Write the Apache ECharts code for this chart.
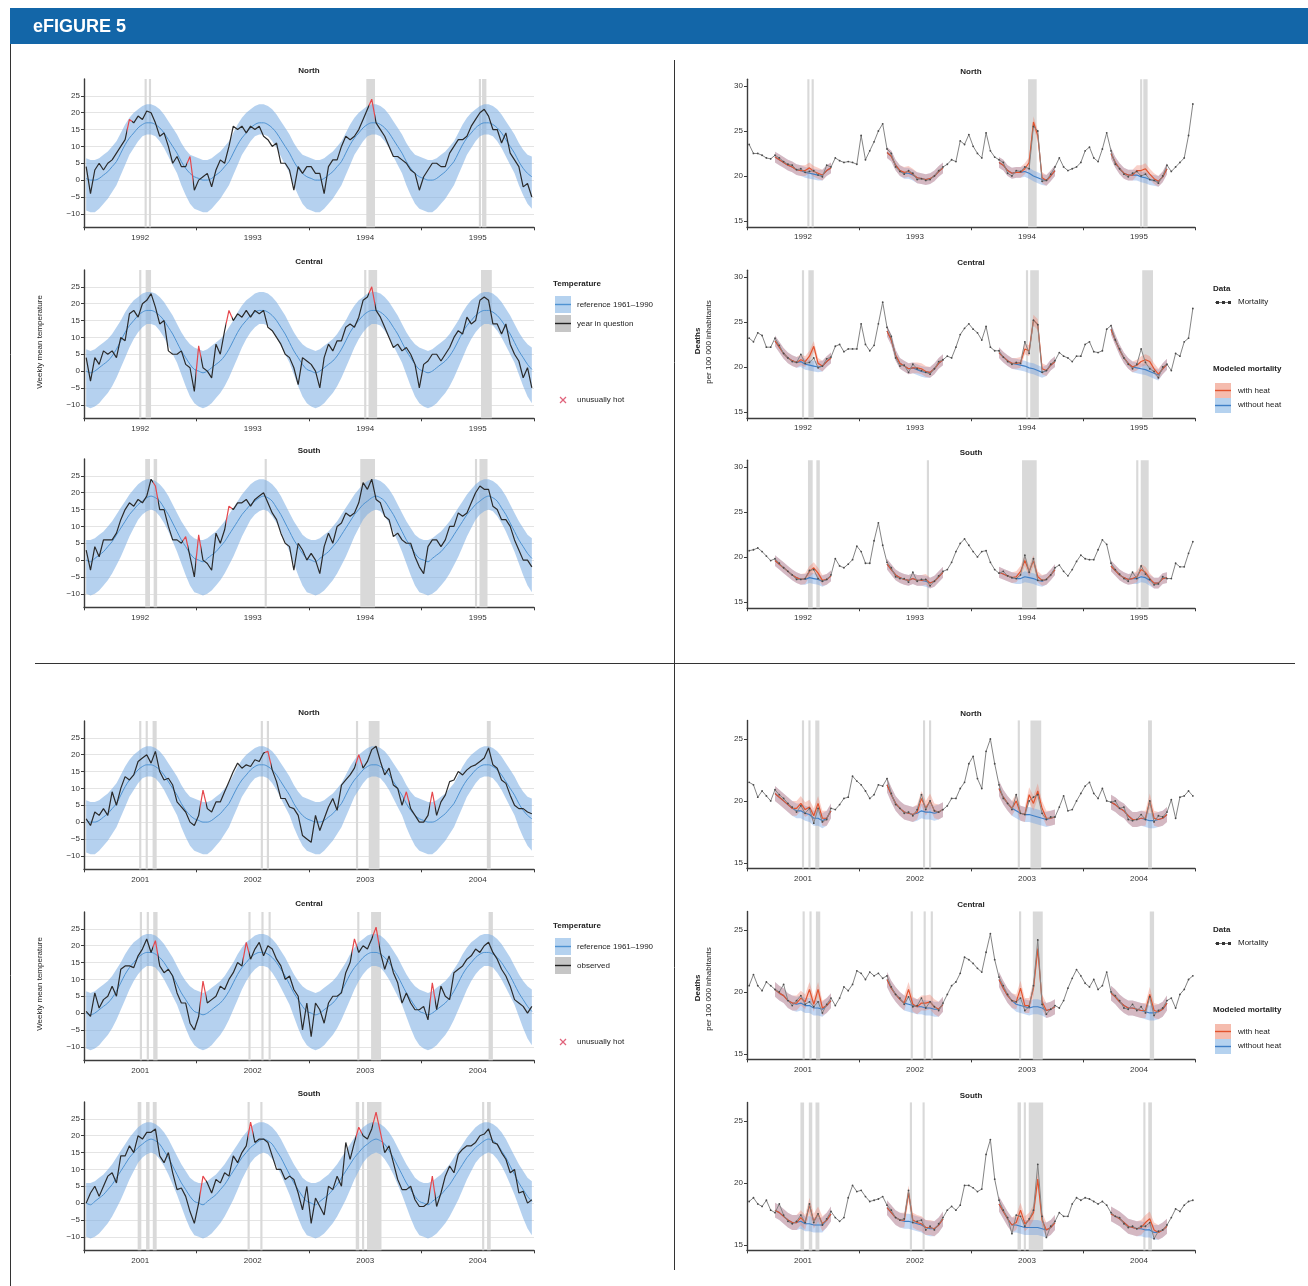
<!DOCTYPE html>
<html><head><meta charset="utf-8">
<script src="https://cdn.jsdelivr.net/npm/echarts@6/dist/echarts.min.js"></script>
<style>html,body{margin:0;padding:0;background:#fff}#c{width:1308px;height:1286px}</style>
</head><body><div id="c"></div>
<script>
// ---------------- DATA ----------------
const years9295 = ['1992', '1993', '1994', '1995'];
const years0104 = ['2001', '2002', '2003', '2004'];
// biweekly sample positions (week number within the 4-year window)
const weeks = Array.from({length: 104}, (_, k) => 2 * k + 1);
// weeks of the year covered by the mortality model (summer window)
const modelWeeks = [13, 15, 17, 19, 21, 23, 25, 27, 29, 31, 33, 35, 37, 39];

// Reference 1961-1990 climatology (26 biweekly values per year)
const refMeanNorth = [0.5, 0, 0, 0.5, 1.5, 2.5, 4, 5.5, 8, 10.5, 12.5, 14, 15.5, 16.5, 17, 17, 16.5, 15.5, 14, 12, 10, 8, 5.5, 3.5, 2, 1];
const refHighNorth = [6.5, 6, 6, 6.5, 7.5, 8.5, 10, 11.5, 14, 16.5, 18.5, 20, 21, 22, 22.5, 22.5, 22, 21, 19.5, 17.5, 15.5, 13.5, 11, 9, 7.5, 7];
const refLowNorth = [-9, -9.5, -9.5, -8.5, -7, -5.5, -3.5, -1.5, 1.5, 4.5, 7.5, 9.5, 11.5, 13, 13.5, 13.5, 13, 11.5, 9.5, 7, 4.5, 2, -1.5, -4.5, -7, -8.5];
const refMeanCentral = [0, -0.5, 0, 1, 2, 3, 4.5, 6.5, 9, 11.5, 13.5, 15, 16.5, 17.5, 18, 18, 17.5, 16.5, 15, 13, 11, 8.5, 6, 4, 2, 0.5];
const refHighCentral = [6.5, 6, 6.5, 7.5, 8.5, 9.5, 11, 13, 15, 17.5, 19.5, 21, 22, 23, 23.5, 23.5, 23, 22, 20.5, 18.5, 16.5, 14, 11.5, 9.5, 8, 7];
const refLowCentral = [-10.5, -11, -10.5, -9.5, -8, -6.5, -4.5, -2, 1, 4, 7, 9.5, 11.5, 13, 14, 14, 13.5, 12, 10, 7.5, 5, 2.5, -1, -4.5, -7.5, -9.5];
const refMeanSouth = [0, -0.5, 0.5, 1.5, 2.5, 4, 5.5, 7.5, 9.5, 11.5, 13.5, 15, 16.5, 17.5, 18.5, 19, 18.5, 17.5, 15.5, 13.5, 11, 8.5, 6, 4, 2, 0.5];
const refHighSouth = [6, 6, 6.5, 7.5, 8.5, 10, 11.5, 13.5, 15.5, 17.5, 19.5, 21, 22.5, 23.5, 24, 24, 23.5, 22.5, 21, 19, 16.5, 14, 11.5, 9.5, 7.5, 6.5];
const refLowSouth = [-10, -10.5, -10, -9, -7.5, -6, -4, -1.5, 1, 4, 7, 9.5, 12, 13.5, 14.5, 15, 14.5, 13, 11, 8.5, 5.5, 2.5, -1, -4.5, -7.5, -9.5];

// Observed weekly mean temperature (biweekly readings)
const tempNorth9295 = [
  4, -4, 3, 5, 3, 5, 6, 8, 10, 12, 18, 17, 19, 18, 20.5, 20, 17, 13, 14, 10, 5, 7, 4, 4, 7, -3,
  0, 1, 2, -2, 3, 6, 5, 10, 16, 15, 16, 14, 16, 15, 16, 13, 12, 10, 11, 5, 5, 3, -3, 4, 2, 4,
  4, 2, 2, -4, 4, 6, 6, 10, 13, 12, 13, 15, 18, 21, 24, 17, 15, 13, 10, 7, 7, 6, 5, 3, 2, -3,
  1, 3, 5, 5, 4, 4, 8, 10, 12, 12, 13, 16, 18, 20, 21, 19, 15, 15, 11, 14, 8, 6, 4, -2, -1, -5];
const tempCentral9295 = [
  4, -3, 4, 2, 6, 5, 6, 4, 10, 9, 17, 18, 16, 20, 21, 23, 19, 14, 15, 6, 5, 5, 6, 2, 1, -6,
  7.5, 1, 0, -2, 8, 5, 12, 18, 15, 17, 16, 18, 16, 18, 17, 18, 13, 12, 10, 8, 5, 4, 1, -4, 4, 3,
  2, 0, -5, 4, 8, 6, 9, 9, 13, 14, 13, 16, 21, 22, 25, 18, 16, 13, 10, 7, 8, 6, 7, 5, 2, -5,
  2, 3, 5, 5, 3, 5, 7, 10, 12, 11, 16, 14, 15, 21, 22, 21, 14, 14, 11, 14, 8, 5, 3, -2, 1, -5];
const tempSouth9295 = [
  3, -3, 4, 1, 6, 6, 6, 8, 12, 15, 17, 16, 18, 17, 19, 24, 22, 15, 15, 10, 6, 6, 5, 7, 1, -5,
  7.5, 0, -1, -3, 8, 5, 9, 16, 15, 17, 17, 18, 16, 18, 19, 20, 17, 14, 12, 8, 5, 4, -3, 5, 3, 0,
  2, 0, -4, 4, 8, 5, 10, 11, 14, 13, 14, 17, 23, 21, 24, 18, 17, 13, 12, 7, 8, 6, 5, 5, 1, -2,
  -4, 4, 6, 6, 4, 6, 10, 10, 14, 13, 14, 17, 20, 22, 21, 21, 16, 15, 12, 12, 10, 6, 3, 0, 0, -2];
const tempNorth0104 = [
  1, -1, 3, 2, 4, 2, 9, 5, 10, 13.5, 12.5, 14, 18, 19, 20, 17.5, 21, 15, 12.5, 13, 11, 6, 4.5, 3, 0, -1,
  2, 9.5, 4, 3, 6, 6, 9, 12, 15, 17.5, 16, 17, 16.5, 18.5, 18, 20.5, 21, 15.5, 12, 7, 7, 4.5, 4, 2, -4, -5,
  -6, 2, -2.5, 1, 4.5, 7, 3.5, 11, 12.5, 14, 16, 20, 16, 18, 21.5, 22.5, 18, 14, 16, 11, 10, 5, 9, 4, 2, 0,
  0, 2, 9, 2, 6, 8, 12, 12.5, 15, 14, 15.5, 16.5, 17, 18, 19, 22, 17, 16, 12.5, 11.5, 8, 5, 4, 4, 3, 2.5];
const tempCentral0104 = [
  0.5, -1, 6, 1.5, 4, 5, 8, 5, 13, 14, 14, 13.5, 17, 19, 22, 18, 21.5, 14, 12, 13, 11, 6, 3, 3, -3, -5,
  -1, 9.5, 3, 4, 5, 8, 7, 10, 12, 15, 14, 21, 16, 19, 21, 17, 20, 19, 16, 14, 10, 11, 7, 5, -5, 3,
  -7, 3, 1, -3, 3, 5, 5, 6, 12, 15, 22, 18, 20, 19, 22, 25.5, 18, 13, 17, 12, 9, 3, 6, 3, 1, 1,
  2, -2, 9, 1, 8, 5, 4, 12, 13, 14, 16, 17, 19, 18, 20, 21, 18, 16, 13, 11, 8, 4, 3, 2, 0, 2];
const tempSouth0104 = [
  0, 3, 5, 2, 5, 8, 9, 6, 14, 14, 17, 15, 20, 19, 21, 21, 22, 14, 12, 15, 9, 4, 4.5, 2, -2.5, -6,
  0, 8, 6, 3, 7, 6, 9, 8, 14, 12, 15, 17, 24, 18, 19, 19, 18, 14, 10, 10, 7, 8, 7, 3, -2, 5,
  -6, 1.5, -1, -3.5, 5, 4, 8, 5, 18, 13, 18, 22.5, 20, 19, 22, 27, 21, 15, 17, 12, 7, 4, 4, 5, 1, -1,
  -1, 0, 8, -1, 3, 8, 11, 9, 14.5, 16, 17, 17, 18, 20, 20.5, 22, 18, 17.5, 15, 13, 9, 10, 3, 3.5, 0, 1];

// Weeks flagged "unusually hot"
const hotNorth9295 = [21, 49, 133];
const hotCentral9295 = [53, 67, 133];
const hotSouth9295 = [33, 47, 53, 67];
const hotNorth0104 = [55, 85, 127, 149, 161];
const hotCentral0104 = [33, 55, 75, 125, 135, 161];
const hotSouth0104 = [55, 77, 127, 135, 137, 161];

// Heat-wave periods (start week, end week)
const heatNorth9295 = [[28, 29], [30, 31], [130.5, 134.5], [182.5, 183.5], [184, 186]];
const heatCentral9295 = [[25.5, 26.5], [28.5, 31], [129.5, 130.5], [131.5, 135.5], [183.5, 188.5]];
const heatSouth9295 = [[28.3, 30.5], [32.2, 33.8], [83.5, 84.5], [127.7, 134.5], [180.7, 181.7], [182.8, 186.5]];
const heatNorth0104 = [[25.5, 26.5], [28.5, 29.5], [31.7, 33.6], [81.7, 82.7], [84.5, 85.5], [125.7, 126.7], [131.6, 136.6], [186.2, 188]];
const heatCentral0104 = [[25.8, 26.8], [29, 30], [32, 34], [76, 77], [82, 83], [85.3, 86.3], [126.3, 127.3], [132.7, 137.3], [187, 189]];
const heatSouth0104 = [[24.8, 26.5], [28.7, 30.3], [31.8, 33.6], [75.6, 76.6], [81.5, 82.5], [125.6, 127.2], [128.5, 129.5], [130.8, 137.5], [184, 185], [186.3, 188]];

// Weekly mortality (deaths per 100 000), biweekly readings
const mortNorth9295 = [
  23.5, 22.5, 22.5, 22.3, 22, 21.9, 22.3, 22, 21.6, 21.3, 21.2, 20.7, 20.8, 20.4, 20.5, 20.6, 20.1, 19.9, 21.2, 21, 22, 21.7, 21.5, 21.6, 21.5, 21.3,
  24.5, 21.8, 22.8, 23.8, 25, 25.8, 23, 22.5, 21, 20.5, 20.2, 20.6, 20.3, 19.6, 19.7, 19.5, 19.6, 20, 20.6, 21, 21.3, 21.8, 21.6, 23.9, 23.5, 24.6,
  23.3, 22.5, 22, 24.8, 22.8, 22.1, 21.8, 21.5, 20.3, 20, 20.6, 20.5, 21, 20.8, 25.5, 25, 19.4, 19.5, 20.2, 21, 22, 21, 20.6, 20.8, 21, 21.5,
  22.8, 23.2, 22, 21.6, 23, 24.8, 22.8, 21.3, 20.8, 20.2, 19.9, 20.3, 20.5, 20, 20.2, 19.6, 19.5, 19.2, 20, 21.2, 20.5, 21, 21.5, 22, 24.5, 28];
const mortCentral9295 = [
  23.2, 22.8, 23.8, 23.5, 22.2, 22.2, 23.2, 22.4, 21.5, 21, 20.6, 20.5, 21.4, 20.4, 20.5, 21, 19.9, 20.1, 20.9, 21.1, 22.3, 22.5, 21.7, 22, 22, 22,
  24.8, 22.5, 21.8, 22.4, 24.8, 27.2, 24.4, 23.4, 21, 20.1, 20.2, 19.4, 20.3, 19.8, 19.6, 19.4, 19.2, 19.8, 20.6, 20.8, 21.2, 21, 22.2, 23.6, 24.3, 24.8,
  24.2, 23.8, 23, 24.5, 22.2, 21.8, 21.8, 21.1, 20.6, 20.3, 20.5, 20.4, 22.8, 21.5, 25.2, 24.7, 19.4, 19.6, 20.3, 20.7, 21.6, 21.2, 21, 20.6, 21.2, 21.2,
  22.5, 22.8, 21.7, 21.6, 21.8, 24.2, 24.6, 23, 22, 21, 20.3, 19.8, 20.3, 22, 20.5, 19.8, 19.5, 18.8, 20, 20.3, 19.6, 21.5, 21.2, 22.8, 23.2, 26.5];
const mortSouth9295 = [
  20.7, 20.8, 21, 20.6, 20.1, 19.6, 19.8, 19.3, 18.8, 18.4, 18, 17.5, 17.5, 17.6, 18.5, 18.6, 17.6, 17.3, 17.5, 18, 19.8, 19, 18.8, 19.2, 19.7, 21.2,
  20.6, 19.3, 19.3, 21.8, 23.8, 21.3, 19.4, 18.8, 17.8, 17.6, 17.6, 17.2, 18.3, 17.3, 17.5, 17.5, 16.8, 17.3, 17.9, 18.4, 18.6, 19.4, 20.6, 21.5, 22, 21.3,
  20.6, 20, 20.6, 20.7, 19.4, 18.6, 18.2, 18.4, 17.9, 17.7, 17.6, 18, 20.2, 18.3, 19.8, 17.4, 17.4, 17.5, 18, 18.8, 19.1, 18.4, 17.9, 18.6, 19.5, 20.2,
  19.8, 19.7, 19.7, 20.8, 21.9, 21.4, 19.3, 18.6, 18.1, 17.6, 17.3, 18.3, 17.6, 19, 18.1, 17.5, 16.9, 17, 17.8, 17.6, 17.6, 19.3, 18.9, 18.9, 20.4, 21.7];
const mortNorth0104 = [
  21.5, 21.3, 20.3, 20.8, 20.4, 20, 20.9, 20.5, 20.2, 19.8, 19.5, 19.1, 19.6, 19, 19.4, 18.2, 19.4, 18.3, 18.5, 19.4, 19.3, 19.7, 20.2, 20.3, 22, 21.6,
  21.3, 20.8, 20.2, 20.5, 21.3, 21.2, 21.8, 20.6, 19.7, 19.4, 19, 19.1, 18.8, 19.3, 20.5, 19.3, 20, 19.2, 19.1, 19.3, 19.6, 20.2, 20.2, 21, 21.5, 23,
  23.6, 21.8, 21, 24, 25, 23, 21.3, 20.2, 19.8, 19.3, 20.5, 19, 18.9, 20, 20.3, 20.5, 19, 18.5, 18.7, 18.7, 19.5, 20.4, 19.2, 19.3, 20, 20.6,
  21.2, 21.5, 20.6, 20.2, 21, 20, 19.9, 20, 19.4, 19.5, 18.5, 18.4, 18.5, 18.9, 18.5, 20, 18.3, 18.8, 18.7, 19.1, 20.1, 18.6, 20.3, 20.4, 20.8, 20.4];
const mortCentral0104 = [
  20.5, 21.4, 20.5, 20.1, 20.8, 20.5, 20.2, 20, 20.6, 19.3, 18.9, 19.3, 19.7, 19, 19.2, 18.8, 19.2, 18.3, 19, 19.5, 18.9, 19.5, 20.4, 20.1, 20.6, 21.7,
  21.5, 21, 21.6, 21.3, 21.5, 21.1, 21.3, 20.4, 19.8, 19.5, 19, 19.6, 18.8, 18.9, 19.5, 18.7, 19.2, 18.8, 18.5, 19.1, 19.8, 20.5, 20.8, 21.5, 22.8, 22.6,
  22.3, 21.9, 21.6, 23.2, 24.7, 22.6, 21.2, 20.5, 19.8, 19.3, 19.2, 19.5, 18.5, 18.8, 20.5, 24.2, 19, 18.2, 18.6, 18.9, 18.7, 19.3, 20.3, 21.1, 21.8, 21.3,
  20.7, 20.4, 21, 20.2, 20.5, 21.6, 20, 19.7, 19.3, 18.7, 18.6, 19, 18.5, 18.8, 18.3, 19.6, 18.1, 18.5, 18.7, 19.3, 19.5, 18.7, 19.8, 20.2, 21, 21.3];
const mortSouth0104 = [
  18.5, 18.8, 18.3, 18.1, 18.6, 17.8, 17.6, 18.3, 17.4, 16.9, 16.7, 16.9, 17.4, 16.8, 18.3, 16.8, 17.5, 16.6, 17.1, 17.7, 17.2, 16.9, 17.2, 18.8, 19.8, 19.3,
  19.4, 18.9, 18.5, 18.6, 18.7, 18.9, 18.2, 17.8, 17.2, 17, 17.1, 19.4, 16.8, 16.9, 17, 16.2, 16.5, 16.2, 16.7, 17.2, 17.8, 18.1, 17.8, 18.2, 19.8, 19.8,
  19.6, 19.3, 19.5, 22.3, 23.5, 20.3, 18.6, 17.8, 17.2, 15.9, 17.4, 17.3, 16.5, 17.1, 17.8, 21.5, 17.3, 15.6, 16.5, 16.9, 17.6, 17.3, 17.3, 18.3, 18.8, 18.6,
  18.8, 18.7, 18.5, 18.3, 18.5, 18.2, 17.6, 17.3, 17.2, 16.7, 16.4, 16.5, 16.3, 16.5, 16.5, 16.8, 15.5, 16.1, 16.2, 16.6, 17.2, 17.9, 17.7, 18.2, 18.5, 18.6];

// Modeled mortality in the summer windows (14 values per year)
const withHeatNorth9295 = [
  22.1, 21.8, 21.5, 21.2, 21, 20.7, 20.6, 20.6, 20.9, 20.5, 20.3, 20.1, 20.6, 20.9,
  22.6, 22.2, 21.2, 20.6, 20.4, 20.5, 20.2, 19.8, 19.7, 19.6, 19.7, 20, 20.5, 20.9,
  21.5, 21.2, 20.6, 20.3, 20.4, 20.4, 20.8, 21.5, 26, 24.5, 19.8, 19.5, 20, 20.6,
  22.5, 21.5, 20.8, 20.3, 20.1, 20.1, 20.6, 20.6, 20.8, 20.2, 19.7, 19.4, 19.9, 20.8];
const noHeatNorth9295 = [
  22.1, 21.8, 21.5, 21.2, 21, 20.7, 20.6, 20.4, 20.3, 20.2, 20.1, 20.1, 20.6, 20.9,
  22.6, 22.2, 21.2, 20.6, 20.3, 20.3, 20.1, 19.8, 19.7, 19.6, 19.7, 20, 20.5, 20.9,
  21.5, 21.2, 20.6, 20.3, 20.4, 20.4, 20.5, 20.3, 20, 19.8, 19.6, 19.5, 20, 20.6,
  22.5, 21.5, 20.8, 20.3, 20.1, 20.1, 20.1, 19.9, 19.8, 19.6, 19.5, 19.4, 19.9, 20.8];
const withHeatCentral9295 = [
  22.9, 22.2, 21.5, 21, 20.7, 20.5, 20.8, 20.6, 21.2, 22.3, 20.4, 20.1, 20.6, 21,
  24, 23, 21.3, 20.4, 20.1, 19.8, 19.9, 19.9, 19.8, 19.5, 19.4, 19.8, 20.4, 20.8,
  21.6, 21.1, 20.7, 20.4, 20.4, 20.5, 22, 21.8, 25.2, 24.7, 19.8, 19.6, 20.2, 20.6,
  24.2, 23, 21.9, 21, 20.4, 20, 20.2, 20.6, 20.8, 20.6, 19.8, 19.2, 19.8, 20.3];
const noHeatCentral9295 = [
  22.9, 22.2, 21.5, 21, 20.7, 20.5, 20.6, 20.3, 20.2, 20.1, 20, 20.1, 20.6, 21,
  24, 23, 21.3, 20.4, 20.1, 19.8, 19.9, 19.7, 19.5, 19.4, 19.4, 19.8, 20.4, 20.8,
  21.6, 21.1, 20.7, 20.4, 20.3, 20.2, 20.1, 19.9, 19.8, 19.6, 19.4, 19.6, 20.2, 20.6,
  24.2, 23, 21.9, 21, 20.4, 20, 19.9, 19.8, 19.7, 19.5, 19.3, 19.1, 19.8, 20.3];
const withHeatSouth9295 = [
  19.6, 19.2, 18.8, 18.4, 18, 17.7, 17.5, 17.6, 18.4, 18.8, 18.2, 17.4, 17.5, 17.9,
  19.2, 18.6, 18, 17.7, 17.5, 17.4, 17.6, 17.4, 17.4, 17.5, 17.1, 17.3, 17.8, 18.3,
  18.3, 18.1, 17.9, 17.7, 17.8, 18.4, 19.6, 18.4, 19.6, 17.8, 17.4, 17.5, 18, 18.6,
  19, 18.5, 18, 17.7, 17.5, 17.6, 17.8, 18.6, 18.3, 17.6, 17.1, 17.1, 17.6, 17.7];
const noHeatSouth9295 = [
  19.6, 19.2, 18.8, 18.4, 18, 17.7, 17.5, 17.5, 17.7, 17.6, 17.5, 17.3, 17.5, 17.9,
  19.2, 18.6, 18, 17.7, 17.5, 17.4, 17.6, 17.4, 17.4, 17.3, 17.1, 17.3, 17.8, 18.3,
  18.3, 18.1, 17.9, 17.7, 17.6, 17.6, 17.8, 17.7, 17.6, 17.4, 17.3, 17.5, 18, 18.6,
  19, 18.5, 18, 17.7, 17.5, 17.6, 17.6, 17.8, 17.7, 17.4, 17.1, 17.1, 17.6, 17.7];
const withHeatNorth0104 = [
  20.6, 20.3, 20, 19.7, 19.4, 19.4, 19.8, 19.3, 19.5, 18.8, 19.8, 18.6, 18.6, 19.2,
  21.3, 20.5, 19.8, 19.4, 19.1, 19, 18.9, 19.1, 20.2, 19.4, 20, 19.2, 19.1, 19.3,
  21, 20.3, 19.8, 19.4, 20, 19, 18.9, 20.5, 19.8, 20.8, 19.4, 18.6, 18.6, 18.7,
  19.9, 19.7, 19.4, 19.2, 18.8, 18.5, 18.5, 18.6, 18.6, 20, 18.6, 18.5, 18.6, 18.9];
const noHeatNorth0104 = [
  20.6, 20.3, 20, 19.7, 19.4, 19.2, 19.2, 19, 18.9, 18.6, 18.6, 18.4, 18.6, 19.2,
  21.3, 20.5, 19.8, 19.4, 19.1, 19, 18.9, 19, 19.2, 19.1, 19.1, 19, 19.1, 19.3,
  21, 20.3, 19.8, 19.4, 19.2, 19, 18.9, 18.9, 18.8, 18.7, 18.6, 18.5, 18.6, 18.7,
  19.9, 19.7, 19.4, 19.2, 18.8, 18.5, 18.5, 18.6, 18.5, 18.4, 18.4, 18.5, 18.6, 18.9];
const withHeatCentral0104 = [
  20.2, 19.9, 19.7, 19.3, 19.1, 19.1, 19.5, 19.2, 20.2, 19, 20.2, 18.7, 18.9, 19.3,
  21, 20.3, 19.8, 19.4, 19.1, 20.2, 19, 18.8, 19.1, 19.1, 19.2, 18.8, 18.6, 19,
  21, 20.3, 19.7, 19.3, 19.2, 20.3, 18.9, 18.9, 20.3, 23.5, 19.2, 18.5, 18.6, 18.8,
  19.9, 19.6, 19.2, 18.9, 18.7, 18.7, 18.6, 18.5, 18.5, 19.8, 18.5, 18.4, 18.6, 19.1];
const noHeatCentral0104 = [
  20.2, 19.9, 19.7, 19.3, 19.1, 19, 19.1, 18.9, 18.9, 18.7, 18.7, 18.6, 18.9, 19.3,
  21, 20.3, 19.8, 19.4, 19.1, 19, 18.9, 18.8, 18.8, 18.7, 18.7, 18.6, 18.6, 19,
  21, 20.3, 19.7, 19.3, 19, 18.9, 18.8, 18.7, 18.8, 18.8, 18.7, 18.5, 18.6, 18.8,
  19.9, 19.6, 19.2, 18.9, 18.7, 18.7, 18.6, 18.5, 18.4, 18.3, 18.3, 18.4, 18.6, 19.1];
const withHeatSouth0104 = [
  17.8, 17.6, 17.3, 17, 16.8, 16.8, 17.2, 16.8, 18.2, 16.9, 17.5, 16.7, 17, 17.5,
  18, 17.6, 17.2, 17, 17, 19.2, 17, 16.8, 16.7, 16.4, 16.4, 16.3, 16.6, 17.1,
  18.3, 17.7, 17.1, 16.6, 16.8, 17.8, 16.7, 17, 17.6, 20.3, 17, 16.2, 16.4, 16.8,
  17.5, 17.3, 17.1, 16.8, 16.5, 16.4, 16.3, 16.4, 16.8, 17.1, 16.2, 16, 16.2, 16.5];
const noHeatSouth0104 = [
  17.8, 17.6, 17.3, 17, 16.8, 16.8, 16.9, 16.7, 16.7, 16.6, 16.6, 16.6, 17, 17.5,
  18, 17.6, 17.2, 17, 16.9, 16.9, 16.8, 16.7, 16.6, 16.4, 16.3, 16.3, 16.6, 17.1,
  18.3, 17.7, 17.1, 16.6, 16.6, 16.5, 16.4, 16.4, 16.4, 16.4, 16.3, 16.2, 16.4, 16.8,
  17.5, 17.3, 17.1, 16.8, 16.5, 16.4, 16.3, 16.3, 16.2, 16.2, 16, 16, 16.2, 16.5];
const modelBandHalf = 0.6;   // half width of modeled-mortality uncertainty band

const tempTicks = [-10, -5, 0, 5, 10, 15, 20, 25];
const mortTicksTop = [15, 20, 25, 30];
const mortTicksBottom = [15, 20, 25];

// ---------------- CHART ----------------
const FONT = '"Liberation Sans", Arial, Helvetica, sans-serif';
const grid = [], xAxis = [], yAxis = [], series = [], visualMap = [], graphic = [];
const rep4 = a => a.concat(a, a, a);
const refs = {
  North: [rep4(refMeanNorth), rep4(refLowNorth), rep4(refHighNorth)],
  Central: [rep4(refMeanCentral), rep4(refLowCentral), rep4(refHighCentral)],
  South: [rep4(refMeanSouth), rep4(refLowSouth), rep4(refHighSouth)]
};

function addAxes(left, top, width, height, ymin, ymax, yTicks, years, split) {
  const i = grid.length;
  grid.push({left: left, top: top, width: width, height: height});
  xAxis.push({type: 'value', gridIndex: i, min: 0, max: 208,
    axisLine: {show: true, onZero: false, lineStyle: {color: '#3c3c3c', width: 1.4}},
    axisTick: {show: true, customValues: [0, 52, 104, 156, 208], length: 3, lineStyle: {color: '#3c3c3c'}},
    axisLabel: {customValues: [26, 78, 130, 182], formatter: v => years[Math.round((v - 26) / 52)],
      fontSize: 8, color: '#333', fontFamily: FONT, margin: 6},
    splitLine: {show: false}});
  yAxis.push({type: 'value', gridIndex: i, min: ymin, max: ymax,
    axisLine: {show: true, onZero: false, lineStyle: {color: '#3c3c3c', width: 1.4}},
    axisTick: {show: true, customValues: yTicks, length: 3, lineStyle: {color: '#3c3c3c'}},
    axisLabel: {customValues: yTicks, formatter: v => (v < 0 ? '\u2212' + (-v) : String(v)),
      fontSize: 8, color: '#333', fontFamily: FONT, margin: 4},
    splitLine: {show: split, lineStyle: {color: '#e4e4e4', width: 1}}});
  return i;
}

function title(x, y, txt) {
  graphic.push({type: 'text', x: x, y: y, silent: true,
    style: {text: txt, font: 'bold 8px ' + FONT, fill: '#222', textAlign: 'center', textVerticalAlign: 'middle'}});
}

function tempPanel(region, top, obs, hot, heat, years) {
  const i = addAxes(84, top, 450, 148.3, -14, 30, tempTicks, years, true);
  const [mean, lo, hi] = refs[region];
  series.push({type: 'custom', xAxisIndex: i, yAxisIndex: i, silent: true, data: [[0]],
    renderItem: (p, api) => {
      const pts = [];
      for (let k = 0; k < weeks.length; k++) pts.push(api.coord([weeks[k], hi[k]]));
      for (let k = weeks.length - 1; k >= 0; k--) pts.push(api.coord([weeks[k], lo[k]]));
      return {type: 'polygon', shape: {points: pts}, style: {fill: 'rgba(120,172,225,0.55)'}};
    }});
  series.push({type: 'line', xAxisIndex: i, yAxisIndex: i, silent: true, symbol: 'none', smooth: 0.3,
    data: weeks.map((w, k) => [w, mean[k]]), lineStyle: {color: '#4f93d2', width: 1},
    markArea: {silent: true, itemStyle: {color: '#d9d9d9'}, data: heat.map(h => [{xAxis: h[0]}, {xAxis: h[1]}])}});
  const idx = series.length;
  series.push({type: 'line', xAxisIndex: i, yAxisIndex: i, silent: true, symbol: 'none',
    data: weeks.map((w, k) => [w, obs[k]]), lineStyle: {width: 1.2}});
  visualMap.push({type: 'piecewise', show: false, seriesIndex: idx, dimension: 0,
    pieces: hot.map(h => ({gte: h - 1.3, lte: h + 1.3, color: '#e5474c'})), outOfRange: {color: '#2a2a2a'}});
  title(309, top - 8, region);
}

function modelLine(arr) {
  const d = [];
  for (let y = 0; y < 4; y++) {
    for (let j = 0; j < modelWeeks.length; j++) d.push([52 * y + modelWeeks[j], arr[y * 14 + j]]);
    if (y < 3) d.push([52 * y + 46, null]);
  }
  return d;
}
function modelBand(i, arr, fill) {
  series.push({type: 'custom', xAxisIndex: i, yAxisIndex: i, silent: true, data: [[0], [1], [2], [3]],
    renderItem: (p, api) => {
      const y = p.dataIndex, pts = [];
      for (let j = 0; j < 14; j++) pts.push(api.coord([52 * y + modelWeeks[j], arr[y * 14 + j] + modelBandHalf]));
      for (let j = 13; j >= 0; j--) pts.push(api.coord([52 * y + modelWeeks[j], arr[y * 14 + j] - modelBandHalf]));
      return {type: 'polygon', shape: {points: pts}, style: {fill: fill}};
    }});
}

function mortPanel(region, top, ymin, ymax, ticks, mort, withH, noH, heat, years) {
  const i = addAxes(747, top, 448, 148, ymin, ymax, ticks, years, false);
  modelBand(i, noH, 'rgba(105,155,225,0.38)');
  modelBand(i, withH, 'rgba(238,125,105,0.36)');
  series.push({type: 'line', xAxisIndex: i, yAxisIndex: i, silent: true, symbol: 'none',
    data: modelLine(noH), lineStyle: {color: '#3f7fc6', width: 1.2}});
  series.push({type: 'line', xAxisIndex: i, yAxisIndex: i, silent: true, symbol: 'none',
    data: modelLine(withH), lineStyle: {color: '#e2532d', width: 1.2}});
  series.push({type: 'line', xAxisIndex: i, yAxisIndex: i, silent: true, symbol: 'circle', symbolSize: 1.8,
    showSymbol: true, data: weeks.map((w, k) => [w, mort[k]]),
    itemStyle: {color: '#4a4a4a'}, lineStyle: {color: '#858585', width: 1},
    markArea: {silent: true, itemStyle: {color: '#d9d9d9'}, data: heat.map(h => [{xAxis: h[0]}, {xAxis: h[1]}])}});
  title(971, top - 7, region);
}

// Top half (1992-1995)
tempPanel('North', 79, tempNorth9295, hotNorth9295, heatNorth9295, years9295);
tempPanel('Central', 270, tempCentral9295, hotCentral9295, heatCentral9295, years9295);
tempPanel('South', 459, tempSouth9295, hotSouth9295, heatSouth9295, years9295);
mortPanel('North', 79.25, 14.3, 30.75, mortTicksTop, mortNorth9295, withHeatNorth9295, noHeatNorth9295, heatNorth9295, years9295);
mortPanel('Central', 270.25, 14.3, 30.75, mortTicksTop, mortCentral9295, withHeatCentral9295, noHeatCentral9295, heatCentral9295, years9295);
mortPanel('South', 460.25, 14.3, 30.75, mortTicksTop, mortSouth9295, withHeatSouth9295, noHeatSouth9295, heatSouth9295, years9295);
// Bottom half (2001-2004)
tempPanel('North', 721, tempNorth0104, hotNorth0104, heatNorth0104, years0104);
tempPanel('Central', 912, tempCentral0104, hotCentral0104, heatCentral0104, years0104);
tempPanel('South', 1102, tempSouth0104, hotSouth0104, heatSouth0104, years0104);
mortPanel('North', 720.4, 14.55, 26.5, mortTicksBottom, mortNorth0104, withHeatNorth0104, noHeatNorth0104, heatNorth0104, years0104);
mortPanel('Central', 911.4, 14.55, 26.5, mortTicksBottom, mortCentral0104, withHeatCentral0104, noHeatCentral0104, heatCentral0104, years0104);
mortPanel('South', 1102.4, 14.55, 26.5, mortTicksBottom, mortSouth0104, withHeatSouth0104, noHeatSouth0104, heatSouth0104, years0104);

// Header
graphic.push({type: 'rect', silent: true, shape: {x: 10, y: 8, width: 1298, height: 36}, style: {fill: '#1366a8'}});
graphic.push({type: 'text', x: 33, y: 27, silent: true,
  style: {text: 'eFIGURE 5', font: 'bold 18px ' + FONT, fill: '#ffffff', textVerticalAlign: 'middle'}});
// Dividers
graphic.push({type: 'line', silent: true, shape: {x1: 674.5, y1: 60, x2: 674.5, y2: 1270}, style: {stroke: '#333', lineWidth: 1}});
graphic.push({type: 'line', silent: true, shape: {x1: 35, y1: 663.5, x2: 1295, y2: 663.5}, style: {stroke: '#333', lineWidth: 1}});
graphic.push({type: 'line', silent: true, shape: {x1: 10.5, y1: 44, x2: 10.5, y2: 1286}, style: {stroke: '#333', lineWidth: 1}});

function txt(x, y, s, bold, align) {
  graphic.push({type: 'text', x: x, y: y, silent: true,
    style: {text: s, font: (bold ? 'bold ' : '') + '8px ' + FONT, fill: '#222', textAlign: align || 'left', textVerticalAlign: 'middle'}});
}
function vtxt(x, y, s, bold) {
  graphic.push({type: 'text', x: x, y: y, rotation: Math.PI / 2, silent: true,
    style: {text: s, font: (bold ? 'bold ' : '') + '8px ' + FONT, fill: '#222', textAlign: 'center', textVerticalAlign: 'middle'}});
}
function tempLegend(dy, second) {
  txt(553, 284 + dy, 'Temperature', true);
  graphic.push({type: 'rect', silent: true, shape: {x: 555, y: 296 + dy, width: 16, height: 17}, style: {fill: '#b5d2ef'}});
  graphic.push({type: 'line', silent: true, shape: {x1: 555, y1: 304.5 + dy, x2: 571, y2: 304.5 + dy}, style: {stroke: '#4f93d2', lineWidth: 1.4}});
  txt(577, 305 + dy, 'reference 1961\u20131990');
  graphic.push({type: 'rect', silent: true, shape: {x: 555, y: 315 + dy, width: 16, height: 17}, style: {fill: '#c6c6c6'}});
  graphic.push({type: 'line', silent: true, shape: {x1: 555, y1: 323.5 + dy, x2: 571, y2: 323.5 + dy}, style: {stroke: '#222', lineWidth: 1.4}});
  txt(577, 324 + dy, second);
  graphic.push({type: 'line', silent: true, shape: {x1: 560, y1: 397 + dy, x2: 566, y2: 403 + dy}, style: {stroke: '#e0647c', lineWidth: 1.3}});
  graphic.push({type: 'line', silent: true, shape: {x1: 560, y1: 403 + dy, x2: 566, y2: 397 + dy}, style: {stroke: '#e0647c', lineWidth: 1.3}});
  txt(577, 400 + dy, 'unusually hot');
}
function mortLegend(dy) {
  txt(1213, 289 + dy, 'Data', true);
  graphic.push({type: 'line', silent: true, shape: {x1: 1215, y1: 302.5 + dy, x2: 1231, y2: 302.5 + dy}, style: {stroke: '#777', lineWidth: 1}});
  [1216, 1222, 1228].forEach(x => graphic.push({type: 'rect', silent: true, shape: {x: x, y: 301 + dy, width: 3, height: 3}, style: {fill: '#333'}}));
  txt(1238, 302 + dy, 'Mortality');
  txt(1213, 369 + dy, 'Modeled mortality', true);
  graphic.push({type: 'rect', silent: true, shape: {x: 1215, y: 383 + dy, width: 16, height: 15}, style: {fill: '#f5bcae'}});
  graphic.push({type: 'line', silent: true, shape: {x1: 1215, y1: 390.5 + dy, x2: 1231, y2: 390.5 + dy}, style: {stroke: '#e2532d', lineWidth: 1.4}});
  txt(1238, 391 + dy, 'with heat');
  graphic.push({type: 'rect', silent: true, shape: {x: 1215, y: 398 + dy, width: 16, height: 15}, style: {fill: '#b5d2ef'}});
  graphic.push({type: 'line', silent: true, shape: {x1: 1215, y1: 405.5 + dy, x2: 1231, y2: 405.5 + dy}, style: {stroke: '#3f7fc6', lineWidth: 1.4}});
  txt(1238, 405 + dy, 'without heat');
}
tempLegend(0, 'year in question');
tempLegend(642, 'observed');
mortLegend(0);
mortLegend(641);
vtxt(40, 342, 'Weekly mean temperature');
vtxt(40, 984, 'Weekly mean temperature');
vtxt(698, 341, 'Deaths', true);
vtxt(709, 342, 'per 100 000 inhabitants');
vtxt(698, 988, 'Deaths', true);
vtxt(709, 989, 'per 100 000 inhabitants');

const chart = echarts.init(document.getElementById('c'));
chart.setOption({animation: false, backgroundColor: '#fff', grid, xAxis, yAxis, series, visualMap, graphic});
</script></body></html>
